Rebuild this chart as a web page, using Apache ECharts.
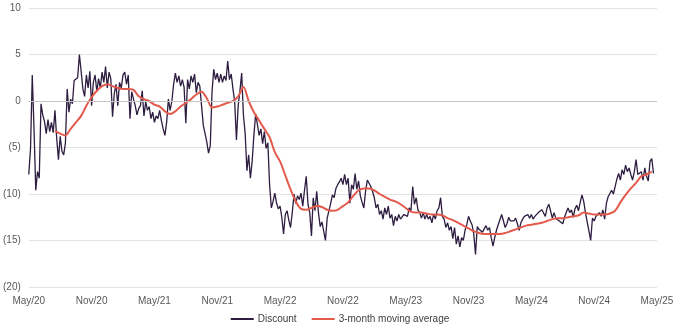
<!DOCTYPE html>
<html>
<head>
<meta charset="utf-8">
<script src="https://cdn.jsdelivr.net/npm/echarts@6/dist/echarts.min.js"></script>
<style>
html,body{margin:0;padding:0;background:#fff;}
#chart{width:680px;height:335px;}
</style>
</head>
<body>
<div id="chart"></div>
<script>
// X tick labels (every 6 months, May/20 .. May/25)
const tickLabels = ['May/20','Nov/20','May/21','Nov/21','May/22','Nov/22','May/23','Nov/23','May/24','Nov/24','May/25'];
// Y tick values
const yTicks = [10, 5, 0, -5, -10, -15, -20];

// Discount (%), sampled every 1/6 month starting May 2020
const discountStartMonth = 0;
const discountStepMonths = 1 / 6;
const discount = [
  -7.9, -5.1, 2.8, -3.0, -9.6, -7.6, -8.3, -0.3, -1.5, -2.2,
  -3.5, -2.0, -3.3, -2.3, -3.4, -1.0, -4.0, -6.3, -3.8, -5.4,
  -5.8, -4.5, 1.3, -1.2, 0.2, -0.3, 2.2, 2.3, 2.5, 5.0,
  3.2, 1.3, 0.5, 2.8, 1.4, 3.2, -0.5, 2.0, 2.8, 1.0,
  2.4, 1.4, 3.1, 2.0, 3.7, 1.4, 3.1, 2.4, -1.7, 0.8,
  1.8, -0.5, 2.0, 1.4, 2.8, 3.1, 1.8, 2.8, -1.9, 1.0,
  0.2, -0.5, -1.5, -0.8, -0.5, 1.1, -1.6, -0.1, -1.0, -0.6,
  -1.9, -1.2, -2.3, -1.6, -1.9, -1.0, -2.1, -3.0, -3.7, -2.3,
  0.2, -1.0, 0.0, 1.8, 3.0, 2.0, 2.7, 1.6, 2.3, 1.5,
  -2.4, 2.3, 1.3, 2.7, 2.0, 2.9, 0.9, 2.0, 1.6, -0.5,
  -2.6, -2.6, -4.4, -5.6, -4.8, 1.0, 3.4, 2.3, 3.0, 2.0,
  2.9, 2.0, 2.7, 2.2, 4.3, 2.3, 2.9, 1.3, -0.1, -4.2,
  -0.5, 1.1, 3.0, -1.5, -3.5, -7.5, -5.8, -8.3, -6.5, -3.7,
  -1.4, -2.5, -3.7, -3.0, -4.6, -3.3, -5.1, -4.5, -9.0, -11.5,
  -10.8, -9.9, -11.0, -11.6, -11.3, -12.5, -14.3, -12.2, -11.8, -12.8,
  -13.6, -12.0, -10.0, -11.0, -10.2, -10.6, -9.9, -11.3, -9.6, -8.1,
  -11.1, -12.0, -14.5, -10.4, -11.8, -9.7, -12.0, -13.5, -13.0, -12.8,
  -15.0, -12.6, -12.8, -11.0, -10.1, -10.4, -9.4, -9.0, -8.7, -8.3,
  -9.0, -7.9, -9.0, -8.3, -11.0, -9.0, -9.5, -7.8, -9.5, -8.6,
  -10.2, -10.9, -11.5, -9.7, -8.5, -8.6, -9.2, -9.7, -10.4, -11.5,
  -11.1, -12.2, -11.8, -12.7, -11.5, -12.2, -11.3, -12.6, -12.2, -13.4,
  -12.4, -12.9, -12.2, -12.7, -12.6, -12.2, -12.0, -12.4, -11.5, -11.8,
  -9.2, -11.1, -10.4, -11.7, -12.0, -12.6, -12.0, -12.7, -12.2, -12.7,
  -12.4, -13.1, -12.2, -12.7, -11.8, -11.5, -10.4, -12.4, -12.7, -13.6,
  -13.1, -13.9, -13.5, -14.8, -13.6, -15.4, -14.5, -15.7, -14.7, -15.0,
  -13.9, -13.3, -12.4, -12.9, -13.3, -14.3, -16.5, -13.5, -13.8, -13.6,
  -14.1, -13.9, -13.4, -13.9, -13.6, -14.7, -15.6, -14.7, -13.9, -13.3,
  -13.4, -12.2, -12.9, -13.6, -13.2, -12.5, -12.9, -12.8, -12.9, -12.6,
  -13.2, -13.9, -13.1, -12.7, -12.4, -12.6, -12.2, -12.6, -12.2, -12.7,
  -12.4, -12.6, -12.0, -12.2, -11.7, -11.8, -12.4, -11.5, -11.1, -11.8,
  -12.6, -12.0, -12.6, -12.8, -12.9, -12.7, -13.2, -12.5, -12.0, -11.5,
  -12.0, -11.7, -12.5, -11.6, -11.2, -11.8, -10.9, -10.1, -10.8, -12.0,
  -13.0, -14.0, -15.0, -12.6, -12.9, -12.4, -12.6, -12.0, -12.4, -11.7,
  -12.7, -11.0, -10.3, -10.5, -9.6, -10.0, -9.2, -8.4, -7.8, -8.5,
  -7.4, -7.9, -6.9, -7.6, -7.2, -7.9, -8.5, -7.6, -6.3, -7.9,
  -8.1, -7.6, -8.5, -7.2, -8.1, -8.6, -6.5, -6.2, -7.8
];

// 3-month moving average (%), sampled every half month starting mid-July 2020
const maStartMonth = 2.5;
const maStepMonths = 0.5;
const movingAvg = [
  -3.2, -3.5, -3.7, -3.0, -2.3, -1.6, -0.5, 0.4, 1.1, 1.6,
  1.8, 1.6, 1.4, 1.3, 1.3, 1.2, 0.5, 0.2, 0.0, -0.4,
  -0.6, -1.1, -1.4, -1.1, -0.6, -0.2, 0.2, 0.7, 1.0, 0.3,
  -0.7, -0.6, -0.4, -0.2, 0.0, 0.5, 1.5, 0.0, -1.2, -2.1,
  -3.0, -3.9, -5.5, -6.5, -8.0, -9.5, -10.8, -11.6, -11.7, -11.5,
  -11.3, -11.4, -11.7, -11.8, -11.7, -11.3, -10.9, -10.2, -9.6, -9.4,
  -9.4, -9.6, -10.0, -10.3, -10.6, -10.8, -11.1, -11.5, -11.9, -12.0,
  -12.0, -12.1, -12.2, -12.2, -12.3, -12.6, -12.8, -13.1, -13.4, -13.7,
  -14.0, -14.2, -14.3, -14.3, -14.3, -14.3, -14.2, -14.0, -13.8, -13.6,
  -13.4, -13.3, -13.2, -13.1, -12.9, -12.7, -12.6, -12.6, -12.5, -12.4,
  -12.3, -12.0, -12.1, -12.2, -12.2, -12.2, -12.1, -11.8, -10.9, -10.1,
  -9.4, -8.8, -8.1, -7.9, -7.6
];

const seriesNames = ['Discount', '3-month moving average'];
const colors = ['#2d1d40', '#e35a4c'];

const discountData = discount.map((v, i) => [discountStartMonth + i * discountStepMonths, v]);
const maData = movingAvg.map((v, i) => [maStartMonth + i * maStepMonths, v]);

const font = "'Liberation Sans', Arial, sans-serif";

const chart = echarts.init(document.getElementById('chart'), null, {renderer: 'canvas'});
chart.setOption({
  animation: false,
  backgroundColor: '#ffffff',
  grid: {left: 26, right: 23, top: 8, bottom: 48, containLabel: false},
  legend: {
    bottom: 6,
    left: 'center',
    itemWidth: 23,
    itemHeight: 2,
    itemGap: 15,
    icon: 'rect',
    textStyle: {fontFamily: font, fontSize: 10, color: '#404040', padding: [0, 0, 0, -1]},
    data: seriesNames
  },
  xAxis: {
    type: 'value',
    min: 0,
    max: (tickLabels.length - 1) * 6,
    interval: 6,
    axisLine: {show: false},
    axisTick: {show: false},
    splitLine: {show: false},
    axisLabel: {
      fontFamily: font, fontSize: 10, color: '#595959', margin: 9,
      formatter: (v) => tickLabels[Math.round(v / 6)] || ''
    }
  },
  yAxis: {
    type: 'value',
    min: yTicks[yTicks.length - 1],
    max: yTicks[0],
    interval: 5,
    axisLine: {show: false},
    axisTick: {show: false},
    splitLine: {show: true, lineStyle: {color: '#e3e3e3', width: 1}},
    axisLabel: {
      fontFamily: font, fontSize: 10, color: '#595959', margin: 8,
      formatter: (v) => v < 0 ? '(' + (-v) + ')' : String(v)
    }
  },
  series: [
    {
      name: 'zero',
      type: 'line',
      data: [],
      z: 1,
      silent: true,
      markLine: {
        silent: true,
        symbol: 'none',
        label: {show: false},
        lineStyle: {color: '#c4c4c4', width: 1, type: 'solid'},
        data: [{yAxis: 0}]
      }
    },
    {
      name: seriesNames[0],
      type: 'line',
      data: discountData,
      showSymbol: false,
      symbol: 'none',
      z: 2,
      lineStyle: {color: colors[0], width: 1.3},
      itemStyle: {color: colors[0]}
    },
    {
      name: seriesNames[1],
      type: 'line',
      data: maData,
      showSymbol: false,
      symbol: 'none',
      smooth: 0.3,
      z: 3,
      lineStyle: {color: colors[1], width: 2},
      itemStyle: {color: colors[1]}
    }
  ]
});
</script>
</body>
</html>
